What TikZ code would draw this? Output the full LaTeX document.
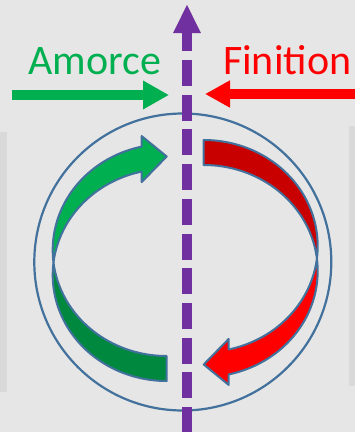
\documentclass[tikz,border=0pt]{standalone}
\usepackage{fontspec}
\setmainfont{Carlito}
\usetikzlibrary{arrows.meta}
\definecolor{bg}{HTML}{E7E6E6}
\definecolor{side}{HTML}{D9D9D9}
\definecolor{outl}{HTML}{41719C}
\definecolor{purp}{HTML}{7030A0}
\definecolor{grn}{HTML}{00B050}
\definecolor{grnD}{HTML}{00893E}
\definecolor{rd}{HTML}{FF0000}
\definecolor{rdD}{HTML}{C80000}
% curved band arrow (local origin at the crossing level, right edge)
\newcommand\curvarrow[2]{%
  \filldraw[fill=#1, bandline]
    plot[domain=173.23:257.33, samples=60] ({114*cos(\x)},{-12.5+106*sin(\x)})
    -- (-25,-126.42) -- (0,-106) -- (-25,-80.42) -- (-25,-90.92)
    -- plot[domain=257.33:186.77, samples=60] ({114*cos(\x)},{12.5+106*sin(\x)})
    -- cycle;
  \filldraw[fill=#2, bandline]
    plot[domain=186.77:90, samples=60] ({114*cos(\x)},{12.5+106*sin(\x)})
    -- (0,93.5)
    -- plot[domain=90:173.23, samples=60] ({114*cos(\x)},{-12.5+106*sin(\x)})
    -- cycle;
}
\begin{document}
\begin{tikzpicture}[x=1pt,y=-1pt,
  bandline/.style={draw=outl, line width=2pt, line join=round},
  captxt/.style={font=\fontsize{42}{42}\selectfont, inner sep=0pt, anchor=base},
  hzarrow/.style={line width=9.5pt},
  ringline/.style={draw=outl, line width=2.2pt},
]
\useasboundingbox (0,0) rectangle (355,432);
\fill[bg] (0,0) rectangle (355,432);
\fill[side] (0,132) rectangle (7,392);
\fill[side] (349,126) rectangle (355,386);

% ring
\coordinate (cc) at (182.8,262);
\draw[ringline] (cc) circle[radius=148.5];

% curved arrows
\begin{scope}[shift={(166.7,262.5)}]
  \curvarrow{grn}{grnD}
\end{scope}
\begin{scope}[shift={(203.7,258.5)}, rotate=180]
  \curvarrow{rd}{rdD}
\end{scope}

% purple dashed axis
\coordinate (vb) at (187,433);
\coordinate (vt) at (187,4);
\draw[purp, line width=9.4pt, dash pattern=on 26pt off 8.7pt,
      -{Triangle[length=29pt,width=25.4pt]}] (vb) -- (vt);

% straight arrows
\coordinate (gs) at (12,95);
\coordinate (ge) at (169,95);
\draw[hzarrow, grn, -{Triangle[length=26pt,width=27pt]}] (gs) -- (ge);
\coordinate (rs) at (356,94);
\coordinate (re) at (205,94);
\draw[hzarrow, rd, -{Triangle[length=25pt,width=25.5pt]}] (rs) -- (re);

% labels
\node[captxt, text=grn] (am) at (94.7,74.4) {Amorce};
\node[captxt, text=rd] (fi) at (287.2,74.4) {Finition};
\end{tikzpicture}
\end{document}
